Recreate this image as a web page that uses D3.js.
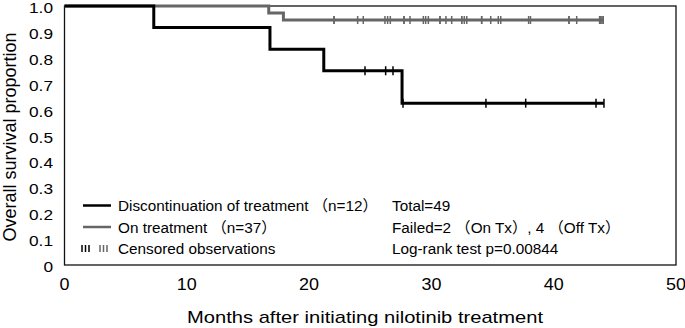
<!DOCTYPE html>
<html><head><meta charset="utf-8">
<script src="https://cdn.jsdelivr.net/npm/d3@7"></script>
<style>
html,body{margin:0;padding:0;background:#fff;}
svg{display:block;}
text{font-family:"Liberation Sans",Arial,"Noto Sans CJK JP",sans-serif;fill:#000;}
</style></head>
<body>
<svg id="chart" width="685" height="328"></svg>
<script>
// ---- data ----
const offTimes = [0, 7.3, 16.8, 21.2, 27.6];
const offSurv  = [1, 0.917, 0.833, 0.75, 0.625];
const offEnd = 44.1;
const offCensor = [24.57, 26.26, 26.86, 27.68, 34.46, 37.71, 43.46, 44.11];

const onTimes = [0, 16.7, 17.9];
const onSurv  = [1, 0.973, 0.946];
const onEnd = 44.1;
const onCensor = [22.04, 22.04, 23.97, 24.43, 26.2, 26.42, 26.64, 27.76, 27.76, 28.25,
  29.34, 29.53, 29.75, 30.7, 30.7, 31.19, 31.66, 32.48, 32.48, 32.69, 32.89,
  34.11, 34.11, 34.85, 35.47, 35.67, 37.95, 38.1, 41.25, 41.25, 41.88,
  43.75, 43.85, 43.95, 44.05];

const xTicks = [0, 10, 20, 30, 40, 50];
const yTicks = [0, 0.1, 0.2, 0.3, 0.4, 0.5, 0.6, 0.7, 0.8, 0.9, 1.0];
const yTickLabels = ["0", "0.1", "0.2", "0.3", "0.4", "0.5", "0.6", "0.7", "0.8", "0.9", "1.0"];

const legendLabels = ["Discontinuation of treatment \uFF08n=12\uFF09", "On treatment \uFF08n=37\uFF09", "Censored observations"];
const statLabels = ["Total=49", "Failed=2 \uFF08On Tx\uFF09, 4 \uFF08Off Tx\uFF09", "Log-rank test p=0.00844"];
const xTitle = "Months after initiating nilotinib treatment";
const yTitle = "Overall survival proportion";

// ---- chart ----
const svg = d3.select("#chart");
const x = d3.scaleLinear().domain([0, 50]).range([64.5, 676]);
const y = d3.scaleLinear().domain([0, 1]).range([265, 6]);
const BLACK = "#000", GRAY = "#666";

function stretch(sel, k) {
  sel.each(function() {
    const len = this.getComputedTextLength();
    d3.select(this).attr("textLength", len * k).attr("lengthAdjust", "spacingAndGlyphs");
  });
}

// frame
svg.append("rect").attr("x", x(0)).attr("y", y(1)).attr("width", x(50) - x(0)).attr("height", y(0) - y(1))
  .attr("fill", "none").attr("stroke", "#111").attr("stroke-width", 1.3);

// tick labels
svg.append("g").selectAll("text").data(yTicks).join("text")
  .attr("x", 53).attr("y", d => y(d) + 7)
  .attr("text-anchor", "end").attr("font-size", 15)
  .text((d, i) => yTickLabels[i]).call(stretch, 1.15);
svg.append("g").selectAll("text").data(xTicks).join("text")
  .attr("x", d => x(d)).attr("y", 290).attr("text-anchor", "middle").attr("font-size", 16)
  .text(d => d).call(stretch, 1.12);

// titles
svg.append("text").attr("x", 365).attr("y", 322.5).attr("text-anchor", "middle").attr("font-size", 17)
  .attr("textLength", 356).attr("lengthAdjust", "spacingAndGlyphs").text(xTitle);
svg.append("text").attr("transform", "translate(16,137) rotate(-90)").attr("text-anchor", "middle").attr("font-size", 18).text(yTitle);

function stepPts(times, surv, end) {
  const pts = times.map((t, i) => [t, surv[i]]);
  pts.push([end, surv[surv.length - 1]]);
  return pts;
}
function survAt(times, surv, t) {
  let s = surv[0];
  for (let i = 0; i < times.length; i++) if (times[i] <= t) s = surv[i];
  return s;
}
const line = d3.line().x(d => x(d[0])).y(d => y(d[1])).curve(d3.curveStepAfter);

function drawSeries(times, surv, end, censor, color, tickHalf) {
  svg.append("path").datum(stepPts(times, surv, end)).attr("d", line)
    .attr("fill", "none").attr("stroke", color).attr("stroke-width", 3);
  svg.append("g").selectAll("line").data(censor).join("line")
    .attr("x1", d => x(d)).attr("x2", d => x(d))
    .attr("y1", d => y(survAt(times, surv, d)) - tickHalf)
    .attr("y2", d => y(survAt(times, surv, d)) + tickHalf)
    .attr("stroke", color).attr("stroke-width", 1.5);
}
drawSeries(onTimes, onSurv, onEnd, onCensor, GRAY, 4);
drawSeries(offTimes, offSurv, offEnd, offCensor, BLACK, 4.5);

// legend
const lg = svg.append("g");
const rowsY = [211, 232.5, 253.5];
lg.append("line").attr("x1", 83).attr("x2", 111).attr("y1", 205.5).attr("y2", 205.5).attr("stroke", BLACK).attr("stroke-width", 2.5);
lg.append("line").attr("x1", 83).attr("x2", 111).attr("y1", 227).attr("y2", 227).attr("stroke", GRAY).attr("stroke-width", 2.5);
const tickX = [82, 85.5, 89, 100, 103.5, 107];
lg.selectAll("line.ct").data(tickX).join("line").attr("class", "ct")
  .attr("x1", d => d).attr("x2", d => d).attr("y1", 245).attr("y2", 252)
  .attr("stroke", (d, i) => i < 3 ? BLACK : GRAY).attr("stroke-width", 1.5);
lg.selectAll("text.lt").data(legendLabels).join("text").attr("class", "lt")
  .attr("x", 118).attr("y", (d, i) => rowsY[i]).attr("font-size", 15.3).text(d => d);
lg.selectAll("text.st").data(statLabels).join("text").attr("class", "st")
  .attr("x", 392).attr("y", (d, i) => rowsY[i]).attr("font-size", 15.3).text(d => d);
</script>
</body></html>
